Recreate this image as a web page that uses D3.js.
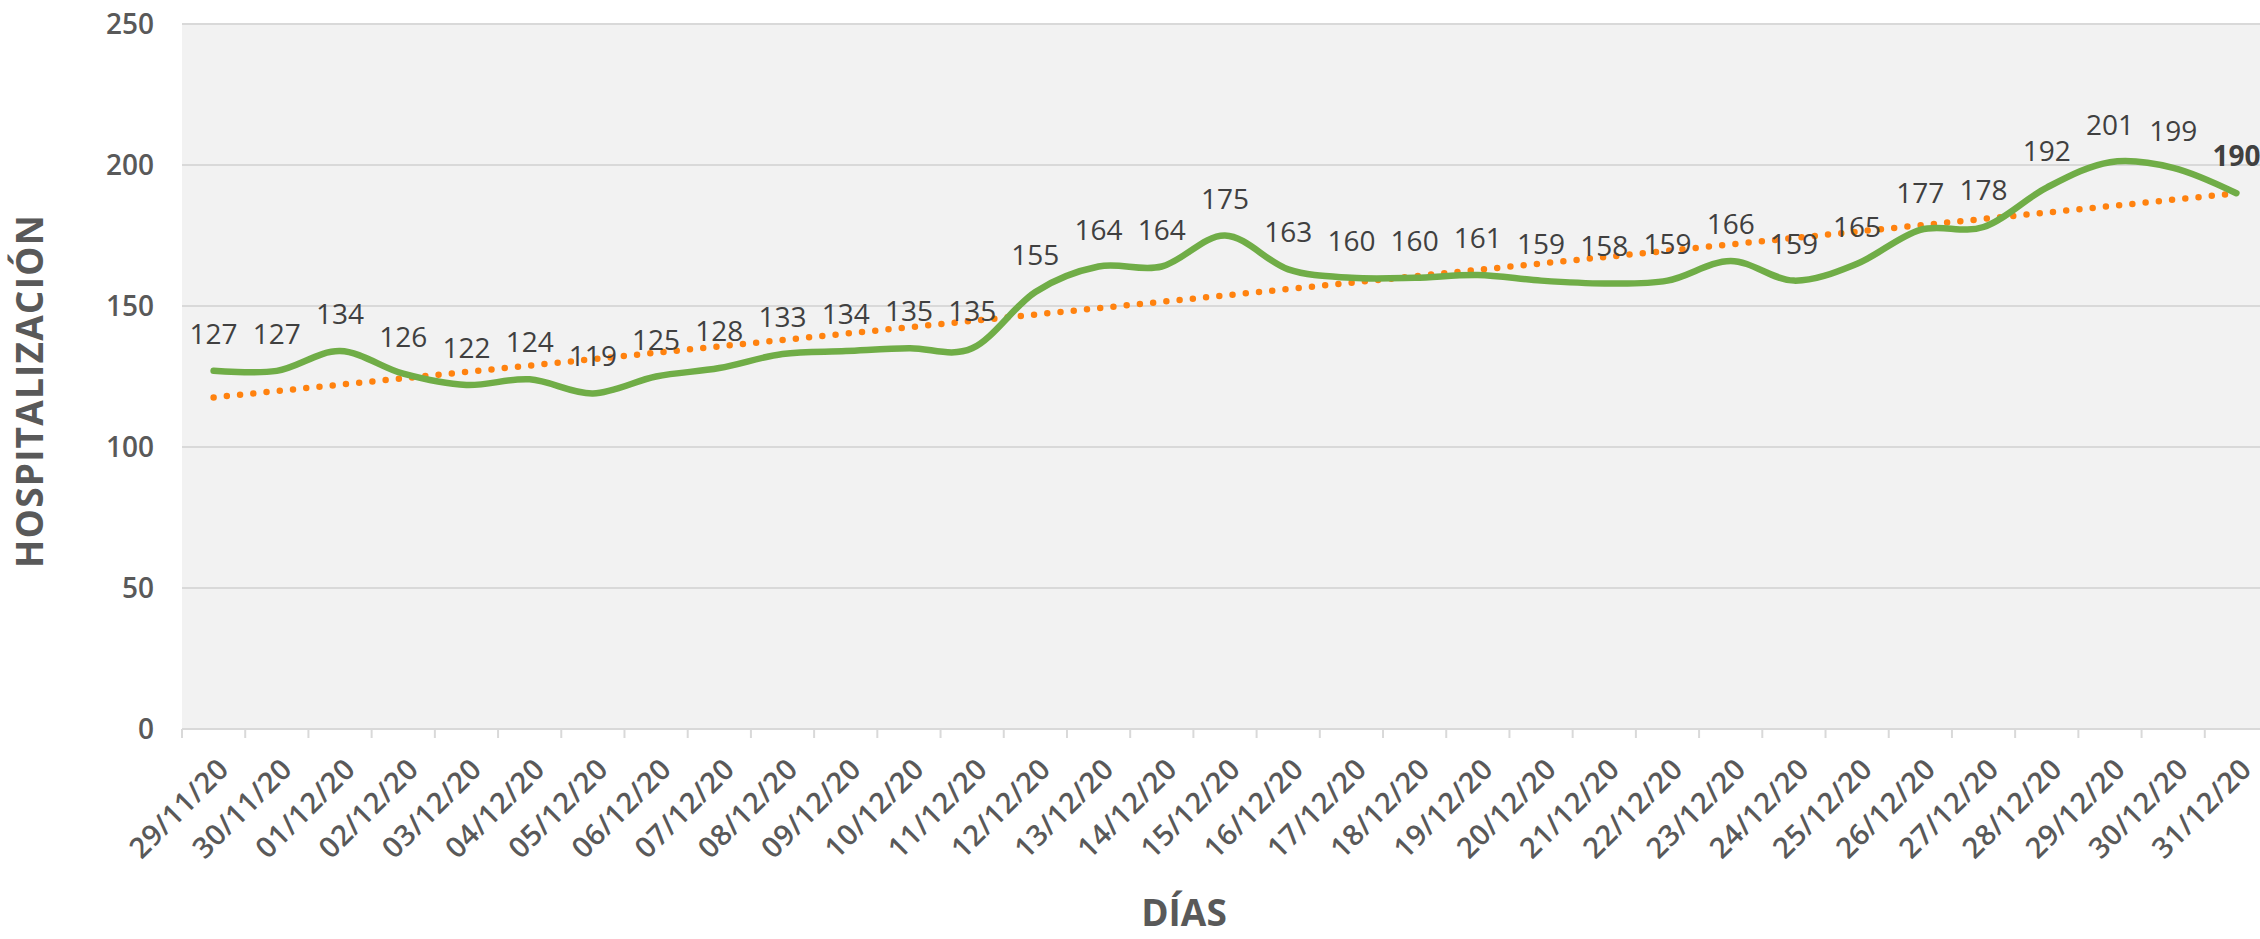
<!DOCTYPE html>
<html>
<head>
<meta charset="utf-8">
<script src="https://cdnjs.cloudflare.com/ajax/libs/d3/7.8.5/d3.min.js"></script>
<style>
  body { margin: 0; background: #fff; overflow: hidden; }
  text { font-family: "Open Sans", "Noto Sans", sans-serif; }
</style>
</head>
<body>
<div id="chart"></div>
<script>
// days shown on the x axis
let dias = ["29/11/20", "30/11/20", "01/12/20", "02/12/20", "03/12/20", "04/12/20", "05/12/20",
    "06/12/20", "07/12/20", "08/12/20", "09/12/20", "10/12/20", "11/12/20", "12/12/20", "13/12/20",
    "14/12/20", "15/12/20", "16/12/20", "17/12/20", "18/12/20", "19/12/20", "20/12/20", "21/12/20",
    "22/12/20", "23/12/20", "24/12/20", "25/12/20", "26/12/20", "27/12/20", "28/12/20", "29/12/20",
    "30/12/20", "31/12/20"]
// hospitalizados por dia
let hospitalizacion = [127, 127, 134, 126, 122, 124, 119, 125, 128, 133, 134, 135, 135, 155, 164,
    164, 175, 163, 160, 160, 161, 159, 158, 159, 166, 159, 165, 177, 178, 192, 201, 199, 190]
let yTicks = [0, 50, 100, 150, 200, 250]

let width = 2260, height = 939
let plotLeft = 182, plotRight = 2268, plotTop = 24, plotBottom = 729

let svg = d3.select("#chart").append("svg").attr("width", width).attr("height", height)

let x = d3.scaleBand().domain(dias).range([plotLeft, plotRight])
let y = d3.scaleLinear().domain([0, 250]).range([plotBottom, plotTop])
let cx = d => x(d) + x.bandwidth() / 2

// background of the plot area
svg.append("rect").attr("x", plotLeft).attr("y", plotTop)
    .attr("width", plotRight - plotLeft).attr("height", plotBottom - plotTop)
    .attr("fill", "#f2f2f2")

// horizontal gridlines
svg.append("g").selectAll("line").data(yTicks).enter().append("line")
    .attr("x1", plotLeft).attr("x2", plotRight)
    .attr("y1", d => y(d)).attr("y2", d => y(d))
    .attr("stroke", "#d9d9d9").attr("stroke-width", 2)

// y tick labels
svg.append("g").selectAll("text").data(yTicks).enter().append("text")
    .attr("x", 154).attr("y", d => y(d)).attr("dy", "0.36em")
    .attr("text-anchor", "end").attr("font-size", 28).attr("font-weight", 600)
    .attr("fill", "#595959").text(d => d)

// x tick marks between categories
let tickPos = dias.map(d => x(d)).concat([plotRight])
svg.append("g").selectAll("line").data(tickPos).enter().append("line")
    .attr("x1", d => d).attr("x2", d => d)
    .attr("y1", plotBottom).attr("y2", plotBottom + 9)
    .attr("stroke", "#d9d9d9").attr("stroke-width", 2)

// x labels rotated
svg.append("g").selectAll("text").data(dias).enter().append("text")
    .attr("transform", d => `translate(${cx(d) + 17},${plotBottom + 42}) rotate(-45)`)
    .attr("text-anchor", "end").attr("font-size", 29).attr("font-weight", 600)
    .attr("fill", "#595959").attr("letter-spacing", 0.5).text(d => d)

// linear trend (least squares on the series)
let n = hospitalizacion.length
let mx = d3.mean(d3.range(n)), my = d3.mean(hospitalizacion)
let sxy = d3.sum(hospitalizacion, (v, i) => (i - mx) * (v - my))
let sxx = d3.sum(d3.range(n), i => (i - mx) * (i - mx))
let slope = sxy / sxx, icpt = my - slope * mx

svg.append("line")
    .attr("x1", cx(dias[0])).attr("y1", y(icpt))
    .attr("x2", cx(dias[n - 1])).attr("y2", y(icpt + slope * (n - 1)))
    .attr("stroke", "#ff820f").attr("stroke-width", 6.5)
    .attr("stroke-linecap", "round").attr("stroke-dasharray", "0,13.3")

// the smoothed line
let line = d3.line()
    .x((v, i) => cx(dias[i]))
    .y(v => y(v))
    .curve(d3.curveCardinal.tension(0))

svg.append("path").datum(hospitalizacion)
    .attr("d", line).attr("fill", "none")
    .attr("stroke", "#70ad47").attr("stroke-width", 6.5)
    .attr("stroke-linecap", "round").attr("stroke-linejoin", "round")

// data labels
svg.append("g").selectAll("text").data(hospitalizacion).enter().append("text")
    .attr("x", (v, i) => cx(dias[i])).attr("y", v => y(v) - 27)
    .attr("text-anchor", "middle").attr("font-size", 28)
    .attr("font-weight", (v, i) => i === n - 1 ? 700 : 400)
    .attr("fill", "#404040").text(v => v)

// axis titles
svg.append("text").attr("x", 1184).attr("y", 926)
    .attr("text-anchor", "middle").attr("font-size", 37).attr("font-weight", 700)
    .attr("fill", "#595959").text("DÍAS")

svg.append("text").attr("transform", "translate(43,391) rotate(-90)")
    .attr("text-anchor", "middle").attr("font-size", 37).attr("font-weight", 700)
    .attr("fill", "#595959").attr("letter-spacing", 1.2).text("HOSPITALIZACIÓN")
</script>
</body>
</html>
